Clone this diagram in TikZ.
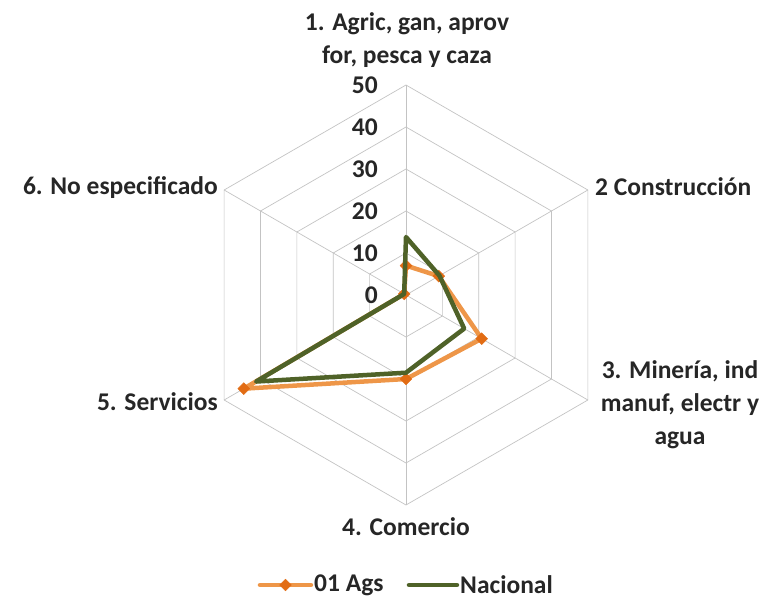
\documentclass[tikz,border=0pt]{standalone}
\usepackage{fontspec}
\setmainfont{Carlito}
\usetikzlibrary{positioning, shapes.geometric, calc}

\definecolor{agsorange}{RGB}{238,150,72}
\definecolor{agsmark}{RGB}{226,108,20}
\definecolor{nacgreen}{RGB}{79,98,40}
\definecolor{gridgray}{RGB}{195,195,195}
\newcommand{\unitr}{4.2}

\begin{document}
\begin{tikzpicture}[x=1pt, y=1pt,
    lbl/.style = {font=\bfseries\fontsize{25.5}{33}\selectfont, text=black!85, inner sep=1pt},
    ticklbl/.style = {lbl, anchor=east},
    gridline/.style = {gridgray, line width=0.7pt},
    agsline/.style = {agsorange, line width=4.5pt, line join=round},
    nacline/.style = {nacgreen, line width=4.5pt, line join=round},
    agsmarker/.style = {agsmark, fill=agsmark, diamond, draw, minimum size=12pt, inner sep=0pt}]
  \useasboundingbox (-406, -305) rectangle (363, 295);

  % rejilla
  \foreach \r in {1,...,5}
    \draw[gridline] (90:\r*42) -- (30:\r*42) -- (-30:\r*42) -- (-90:\r*42) -- (-150:\r*42) -- (150:\r*42) -- cycle;
  \foreach \a in {90,30,...,-210}
    \draw[gridline] (0,0) -- (\a:210);

  % escala
  \foreach \v [count=\i from 0] in {0,10,20,30,40,50}
    \node[ticklbl] (tick\i) at (-27, \i*42) {\v};

  % categorias
  \node[lbl, align=center] (cat1) at (1, 255) {1. Agric, gan, aprov\\for, pesca y caza};
  \node[lbl, anchor=west] (cat2) at (188, 108) {2 Construcción};
  \node[lbl, align=center] (cat3) at (274, -110) {3. Minería, ind\\manuf, electr y\\agua};
  \node[lbl] (cat4) at (0, -232) {4. Comercio};
  \node[lbl, anchor=east] (cat5) at (-187, -107) {5. Servicios};
  \node[lbl, anchor=east] (cat6) at (-187, 107) {6. No especificado};

  % 01 Ags
  \draw[agsline] (90:7*\unitr) -- (30:9*\unitr) -- (-30:20.8*\unitr) -- (-90:20*\unitr)
    -- (-150:44.6*\unitr) -- (150:0.5*\unitr) -- cycle;
  \foreach \a/\v in {90/7, 30/9, -30/20.8, -90/20, -150/44.6, 150/0.5}
    \node[agsmarker] at (\a:\v*\unitr) {};

  % Nacional
  \draw[nacline] (90:13.8*\unitr) -- (30:9.2*\unitr) -- (-30:16*\unitr) -- (-90:18.5*\unitr)
    -- (-150:41.2*\unitr) -- (150:0.5*\unitr) -- cycle;

  % leyenda
  \coordinate (agsA) at (-146, -290);
  \coordinate (agsB) at (-95, -290);
  \draw[agsline, line cap=round] (agsA) -- (agsB);
  \node[agsmarker] (agsdot) at ($(agsA)!0.5!(agsB)$) {};
  \node[lbl, anchor=west] (agsname) at (-93, -290) {01 Ags};
  \coordinate (nacA) at (3, -290);
  \coordinate (nacB) at (51, -290);
  \draw[nacline, line cap=round] (nacA) -- (nacB);
  \node[lbl, anchor=west] (nacname) at (53, -290) {Nacional};
\end{tikzpicture}
\end{document}
